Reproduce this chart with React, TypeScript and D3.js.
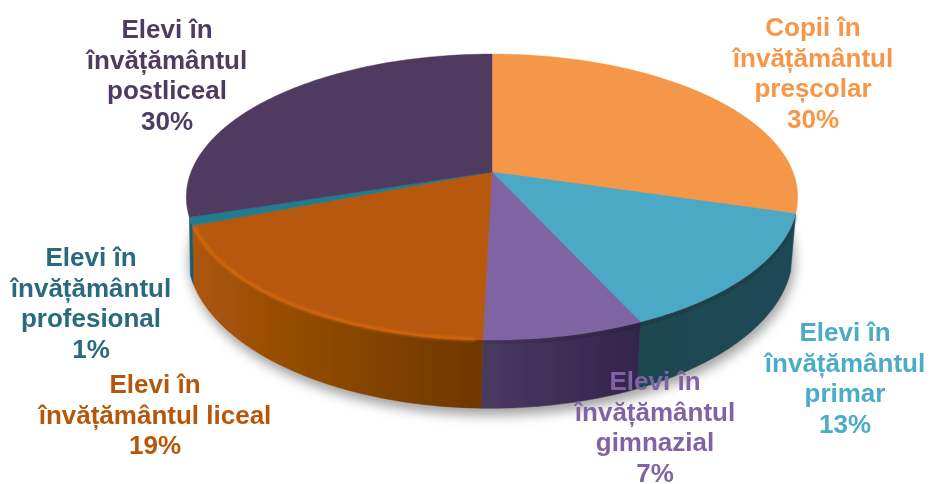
import React from "react";
import * as d3 from "d3";

// Values (slice geometry) and the printed percent labels
const sliceValues = [29.6, 13.6, 7.2, 18.7, 0.9, 30.0];
const printedPercents = ["30%", "13%", "7%", "19%", "1%", "30%"];
const labelLines = [
  ["Copii în", "învățământul", "preșcolar"],
  ["Elevi în", "învățământul", "primar"],
  ["Elevi în", "învățământul", "gimnazial"],
  ["Elevi în", "învățământul liceal"],
  ["Elevi în", "învățământul", "profesional"],
  ["Elevi în", "învățământul", "postliceal"],
];

const topColors = ["#F4974A", "#4BA9C5", "#8064A2", "#B65808", "#227C90", "#4F3B62"];
const textColors = ["#F79646", "#4BACC6", "#8064A2", "#B65708", "#2A6A80", "#4F3B62"];
const wallStops: (string[] | null)[] = [
  null,
  ["#1F4A55", "#1F4650"],
  ["#33244A", "#4A3962"],
  ["#6E3700", "#8A4704", "#AC5608"],
  ["#1D5A6C", "#1D5A6C"],
  null,
];
const rimShade = [false, true, true, false, false, false];
const labelCenters = [
  [813, 36],
  [845, 341],
  [655, 390],
  [155, 393],
  [91, 266],
  [167, 38],
];

const W = 930;
const H = 484;
const LH = 30.6;

const persp = 0.175;
const topRim = { cx: 492, cy: 172, a: 301, b: 138.6 };
const botRim = { cx: 490, cy: 226, a: 298, b: 150.4 };
const wallMin = (104 * Math.PI) / 180;
const wallMax = (262 * Math.PI) / 180;

type Rim = typeof topRim;
function project(r: Rim, t: number): [number, number] {
  const x = Math.sin(t);
  const y = -Math.cos(t);
  const w = 1 - persp * y;
  return [r.cx + (r.a * x) / w, r.cy + (r.b * y) / w];
}

function samples(a0: number, a1: number): number[] {
  const n = Math.max(2, Math.ceil(((a1 - a0) * 180) / Math.PI));
  return d3.range(n + 1).map((i) => a0 + ((a1 - a0) * i) / n);
}

const line = d3.line();
const pie = d3.pie<number>().value((d) => d).sort(null);

export default function App() {
  const arcs = pie(sliceValues);
  const apex: [number, number] = [topRim.cx, topRim.cy];
  const fullBottom = line(samples(0, 2 * Math.PI).map((t) => project(botRim, t))) + "Z";
  const hlArc = arcs[3];
  const highlight = line(
    samples(hlArc.startAngle + 0.02, hlArc.endAngle - 0.01).map((t) => project({ ...topRim, b: topRim.b - 0.5, a: topRim.a - 1 }, t))
  )!;

  return (
    <svg
      width={W}
      height={H}
      viewBox={`0 0 ${W} ${H}`}
      style={{ position: "absolute", left: 0, top: 0, background: "#fff" }}
    >
      <defs>
        <filter id="shadow" x="-10%" y="-10%" width="120%" height="130%">
          <feGaussianBlur stdDeviation="6" />
        </filter>
        <filter id="soft" x="-5%" y="-5%" width="110%" height="110%">
          <feGaussianBlur stdDeviation="0.7" />
        </filter>
        <filter id="rim" x="-10%" y="-10%" width="120%" height="120%">
          <feGaussianBlur stdDeviation="1.6" />
        </filter>
        <filter id="txt" x="-5%" y="-5%" width="110%" height="110%">
          <feGaussianBlur stdDeviation="0.3" />
        </filter>
        {arcs.map((a, i) => {
          const s = wallStops[i];
          if (!s) return null;
          const from = project(topRim, Math.max(a.startAngle, wallMin))[0];
          const to = project(topRim, Math.min(a.endAngle, wallMax))[0];
          return (
            <linearGradient key={i} id={`wall${i}`} gradientUnits="userSpaceOnUse" x1={from} x2={to} y1={0} y2={0}>
              {s.map((c, k) => (
                <stop key={k} offset={k / (s.length - 1)} stopColor={c} />
              ))}
            </linearGradient>
          );
        })}
      </defs>

      <path d={fullBottom} transform="translate(2,7)" fill="#555" opacity={0.55} filter="url(#shadow)" />

      <g filter="url(#soft)">
        {arcs.map((a, i) => {
          if (!wallStops[i]) return null;
          const a0 = Math.max(a.startAngle, wallMin);
          const a1 = Math.min(a.endAngle, wallMax);
          if (a1 <= a0) return null;
          const ts = samples(a0, a1);
          const pts = [...ts.map((t) => project(topRim, t)), ...ts.slice().reverse().map((t) => project(botRim, t))];
          return <path key={i} d={line(pts) + "Z"} fill={`url(#wall${i})`} stroke={`url(#wall${i})`} strokeWidth={0.5} />;
        })}

        {arcs.map((a, i) =>
          rimShade[i] ? (
            <path
              key={i}
              d={line(samples(Math.max(a.startAngle, wallMin), a.endAngle).map((t) => project(topRim, t)))!}
              fill="none"
              stroke="#151515"
              strokeOpacity={0.3}
              strokeWidth={3}
              filter="url(#rim)"
              transform="translate(0,1.5)"
            />
          ) : null
        )}

        {arcs.map((a, i) => {
          const pts = [apex, ...samples(a.startAngle, a.endAngle).map((t) => project(topRim, t))];
          return <path key={i} d={line(pts as [number, number][]) + "Z"} fill={topColors[i]} stroke={topColors[i]} strokeWidth={0.4} />;
        })}

        <path d={highlight} fill="none" stroke="#DC6C14" strokeWidth={2.6} filter="url(#rim)" />
      </g>

      <g
        fontFamily="'Liberation Sans', Arial, sans-serif"
        fontWeight={700}
        fontSize={26}
        textAnchor="middle"
        filter="url(#txt)"
      >
        {labelLines.map((lines, i) => (
          <text key={i} fill={textColors[i]} x={labelCenters[i][0]} y={labelCenters[i][1]}>
            {[...lines, printedPercents[i]].map((l, j) => (
              <tspan key={j} x={labelCenters[i][0]} y={labelCenters[i][1] + j * LH}>
                {l}
              </tspan>
            ))}
          </text>
        ))}
      </g>
    </svg>
  );
}
